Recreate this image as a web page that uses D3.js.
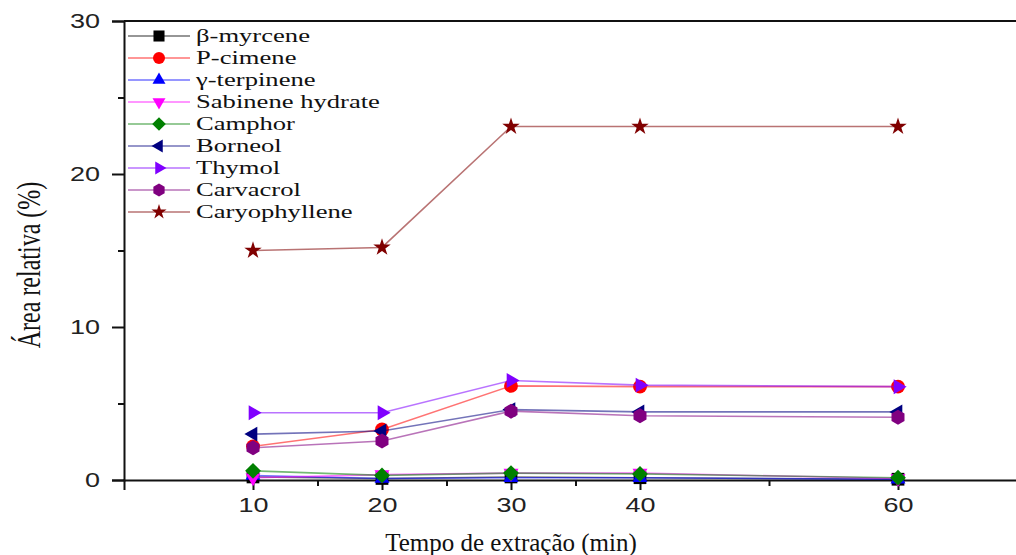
<!DOCTYPE html>
<html>
<head>
<meta charset="utf-8">
<script src="https://cdn.jsdelivr.net/npm/d3@7"></script>
<style>
  html, body { margin: 0; padding: 0; background: #fff; }
  svg { display: block; }
</style>
</head>
<body>
<svg id="chart" width="1016" height="555"></svg>
<script>
// ---- data ----
const times = [10, 20, 30, 40, 60];
const seriesNames = ["β-myrcene", "P-cimene", "γ-terpinene", "Sabinene hydrate", "Camphor", "Borneol", "Thymol", "Carvacrol", "Caryophyllene"];
const myrcene       = [0.2, 0.1, 0.2, 0.15, 0.05];
const pCimene       = [2.2, 3.3, 6.15, 6.1, 6.1];
const gTerpinene    = [0.3, 0.1, 0.15, 0.15, 0.05];
const sabineneHydr  = [0.15, 0.35, 0.45, 0.45, 0.1];
const camphor       = [0.6, 0.3, 0.45, 0.4, 0.15];
const borneol       = [3.0, 3.2, 4.6, 4.45, 4.45];
const thymol        = [4.4, 4.4, 6.5, 6.2, 6.1];
const carvacrol     = [2.1, 2.55, 4.5, 4.2, 4.1];
const caryophyllene = [15.0, 15.2, 23.1, 23.1, 23.1];
const seriesValues = [myrcene, pCimene, gTerpinene, sabineneHydr, camphor, borneol, thymol, carvacrol, caryophyllene];
const yTicks = [0, 10, 20, 30];
const yMinorTicks = [5, 15, 25];
const xTicks = [10, 20, 30, 40, 60];
const xMinorTicks = [15, 25, 35, 50];

// ---- styles ----
const colors = ["#000000", "#ff0000", "#0000ff", "#ff00ff", "#008000", "#000080", "#8000ff", "#800080", "#800000"];
const shapes = ["square", "circle", "tri-up", "tri-down", "diamond", "tri-left", "tri-right", "hexagon", "star"];

const svg = d3.select("#chart");
const mLeft = 124, mTop = 21, mBottom = 480;
const x = d3.scaleLinear().domain([0, 70]).range([mLeft, 1027]);
const y = d3.scaleLinear().domain([0, 30]).range([mBottom, mTop]);

function symbolPath(shape, size) {
  const r = size / 2;
  const tri = (rot) => {
    const pts = [];
    for (let i = 0; i < 3; i++) {
      const a = rot + i * 2 * Math.PI / 3;
      pts.push([r * 1.15 * Math.cos(a), r * 1.15 * Math.sin(a)]);
    }
    return "M" + pts.map(p => p.join(",")).join("L") + "Z";
  };
  switch (shape) {
    case "square": return `M${-r*0.85},${-r*0.85}H${r*0.85}V${r*0.85}H${-r*0.85}Z`;
    case "circle": return d3.symbol(d3.symbolCircle, Math.PI * r * r * 0.85)();
    case "tri-up": return tri(-Math.PI / 2);
    case "tri-down": return tri(Math.PI / 2);
    case "tri-left": return tri(Math.PI);
    case "tri-right": return tri(0);
    case "diamond": return `M0,${-r*1.05}L${r*1.05},0L0,${r*1.05}L${-r*1.05},0Z`;
    case "hexagon": {
      const pts = d3.range(6).map(i => { const a = Math.PI / 6 + i * Math.PI / 3; return [r * Math.cos(a), r * Math.sin(a)]; });
      return "M" + pts.map(p => p.join(",")).join("L") + "Z";
    }
    case "star": return d3.symbol(d3.symbolStar, size * size * 0.42)();
  }
}

// ---- axes ----
const axisColor = "#111";
const sansFont = "Liberation Sans, Arial, sans-serif";
const serifFont = "Liberation Serif, Times New Roman, serif";
const yAxis = d3.axisLeft(y).tickValues(yTicks).tickSize(12).tickPadding(10).tickFormat(d3.format("d"));
const gy = svg.append("g").attr("transform", `translate(${mLeft},0)`).call(yAxis);
gy.select(".domain").attr("stroke", axisColor).attr("stroke-width", 2);
gy.selectAll(".tick line").attr("stroke", axisColor).attr("stroke-width", 2);
gy.selectAll(".tick text").attr("font-family", sansFont).attr("font-size", 20).attr("fill", "#222")
  .attr("x", 0).attr("transform", "translate(-24,0) scale(1.35,1)");
svg.append("g").attr("transform", `translate(${mLeft},0)`)
  .call(d3.axisLeft(y).tickValues(yMinorTicks).tickSize(6).tickFormat(""))
  .call(g => g.select(".domain").remove())
  .selectAll(".tick line").attr("stroke", axisColor).attr("stroke-width", 2);

const xAxis = d3.axisBottom(x).tickValues(xTicks).tickSize(10).tickPadding(8).tickFormat(d3.format("d"));
const gx = svg.append("g").attr("transform", `translate(0,${mBottom})`).call(xAxis);
gx.select(".domain").attr("stroke", axisColor).attr("stroke-width", 2);
gx.selectAll(".tick line").attr("stroke", axisColor).attr("stroke-width", 2);
gx.selectAll(".tick text").attr("font-family", sansFont).attr("font-size", 20).attr("fill", "#222")
  .attr("transform", "scale(1.35,1)");
svg.append("g").attr("transform", `translate(0,${mBottom})`)
  .call(d3.axisBottom(x).tickValues(xMinorTicks).tickSize(6).tickFormat(""))
  .call(g => g.select(".domain").remove())
  .selectAll(".tick line").attr("stroke", axisColor).attr("stroke-width", 2);

// top frame line
svg.append("line").attr("x1", mLeft).attr("x2", x(70)).attr("y1", y(30)).attr("y2", y(30))
  .attr("stroke", axisColor).attr("stroke-width", 2);

// ---- axis titles ----
svg.append("text").attr("x", 0).attr("y", 0).attr("text-anchor", "middle")
  .attr("transform", "translate(511,551)")
  .attr("font-family", serifFont).attr("font-size", 25).attr("fill", "#111")
  .text("Tempo de extração (min)");
svg.append("text").attr("transform", `translate(40,265) scale(1.4,1) rotate(-90)`).attr("text-anchor", "middle")
  .attr("font-family", serifFont).attr("font-size", 24).attr("fill", "#111")
  .text("Área relativa (%)");

// ---- series ----
const line = d3.line().x((d, i) => x(times[i])).y(d => y(d));
seriesValues.forEach((vals, k) => {
  const g = svg.append("g");
  g.append("path").attr("d", line(vals)).attr("fill", "none").attr("stroke", colors[k])
    .attr("stroke-opacity", 0.55).attr("stroke-width", 1.6);
  g.selectAll("path.m").data(vals).enter().append("path").attr("class", "m")
    .attr("d", symbolPath(shapes[k], 15))
    .attr("transform", (d, i) => `translate(${x(times[i])},${y(d)})`)
    .attr("fill", colors[k]);
});

// ---- legend ----
const lg = svg.append("g");
seriesNames.forEach((name, k) => {
  const yy = 36 + k * 22;
  lg.append("line").attr("x1", 128).attr("x2", 190).attr("y1", yy).attr("y2", yy)
    .attr("stroke", colors[k]).attr("stroke-opacity", 0.55).attr("stroke-width", 1.6);
  lg.append("path").attr("d", symbolPath(shapes[k], 13)).attr("transform", `translate(159,${yy})`).attr("fill", colors[k]);
  lg.append("text").attr("x", 0).attr("y", 0)
    .attr("transform", `translate(196,${yy + 6}) scale(1.4,1)`)
    .attr("font-family", serifFont).attr("font-size", 19).attr("fill", "#111")
    .text(name);
});
</script>
</body>
</html>
